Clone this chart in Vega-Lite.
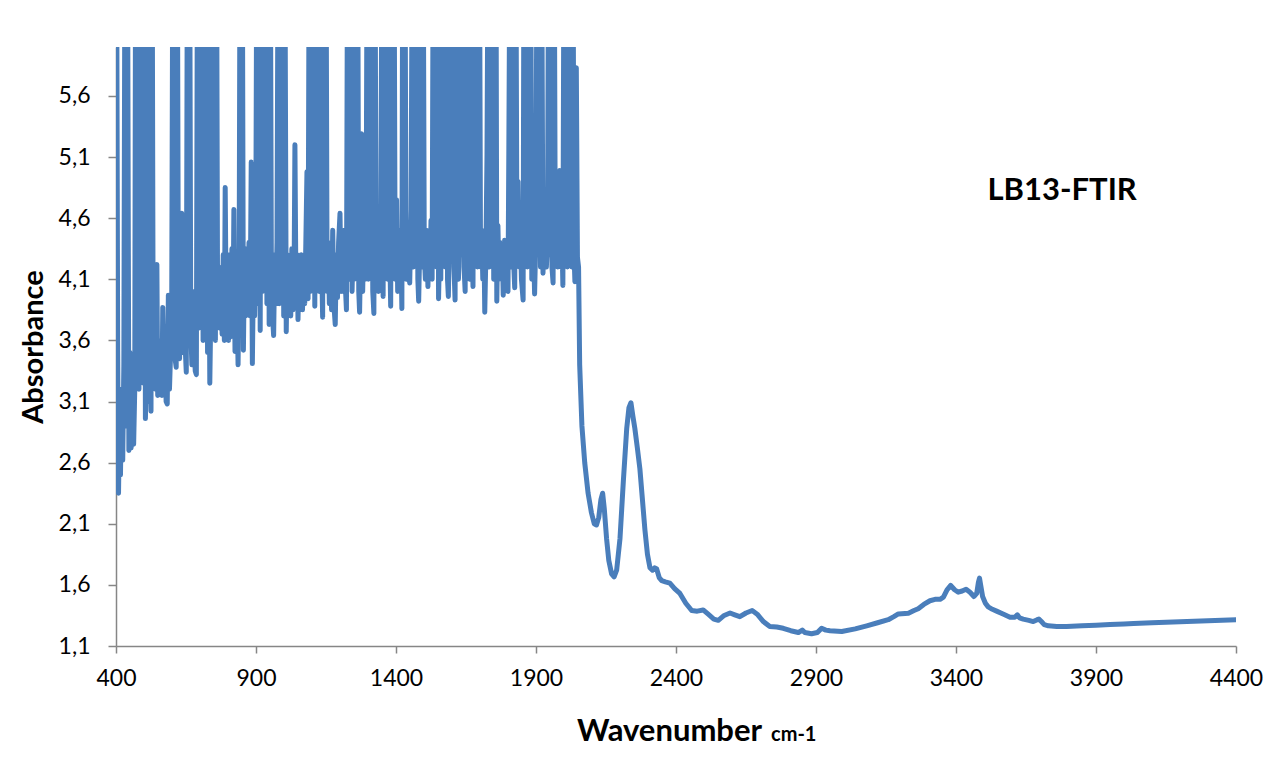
{
  "$schema": "https://vega.github.io/schema/vega-lite/v6.json",
  "width": 1120,
  "height": 599,
  "autosize": {"type": "none"},
  "padding": {"left": 116, "top": 47, "right": 44, "bottom": 119},
  "background": "white",
  "config": {"view": {"stroke": null}, "font": "Lato"},
  "title": {"text": "cm-1", "orient": "bottom", "anchor": "start", "frame": "group", "dx": 655, "dy": -5, "offset": 0, "font": "Lato", "fontWeight": "bold", "fontSize": 20, "color": "#000000", "baseline": "alphabetic"},
  "layer": [
    {
      "data": {"values": [
        {"w":400,"a":3.4},{"w":402,"a":7},{"w":406,"a":3.5},{"w":409,"a":2.35},{"w":413,"a":3.0},{"w":416,"a":2.5},{"w":420,"a":3.2},{"w":424,"a":2.62},{"w":428,"a":3.4},{"w":432,"a":7},{"w":437,"a":2.9},{"w":441,"a":7},{"w":446,"a":2.7},{"w":450,"a":3.5},{"w":454,"a":2.72},{"w":458,"a":3.3},{"w":463,"a":2.75},{"w":467,"a":3.2},{"w":470,"a":7},{"w":474,"a":3.3},{"w":478,"a":7},{"w":482,"a":3.2},{"w":486,"a":7},{"w":490,"a":3.3},{"w":494,"a":7},{"w":498,"a":3.25},{"w":502,"a":7},{"w":505,"a":2.96},{"w":509,"a":3.3},{"w":513,"a":3.1},{"w":517,"a":3.65},{"w":521,"a":7},{"w":525,"a":3.02},{"w":529,"a":7},{"w":533,"a":3.3},{"w":537,"a":3.7},{"w":541,"a":3.2},{"w":546,"a":4.22},{"w":549,"a":3.15},{"w":553,"a":3.6},{"w":557,"a":3.2},{"w":561,"a":3.5},{"w":564,"a":3.15},
        {"w":567,"a":3.87},{"w":571,"a":3.3},{"w":575,"a":3.6},{"w":579,"a":3.1},{"w":583,"a":3.08},{"w":587,"a":3.97},{"w":591,"a":3.2},{"w":595,"a":3.5},{"w":599,"a":3.9},{"w":603,"a":7},{"w":607,"a":3.6},{"w":611,"a":3.45},{"w":615,"a":3.38},{"w":619,"a":7},{"w":623,"a":3.7},{"w":627,"a":3.45},{"w":631,"a":4.0},{"w":635,"a":4.64},{"w":639,"a":3.5},{"w":643,"a":4.1},{"w":647,"a":3.55},{"w":651,"a":3.34},{"w":655,"a":7},{"w":659,"a":3.6},{"w":663,"a":7},{"w":667,"a":3.7},{"w":671,"a":3.4},{"w":675,"a":4.0},{"w":679,"a":3.6},{"w":683,"a":3.35},{"w":687,"a":3.32},{"w":691,"a":7},{"w":695,"a":3.7},{"w":699,"a":7},{"w":703,"a":3.9},{"w":707,"a":7},{"w":711,"a":3.6},{"w":715,"a":7},{"w":719,"a":3.8},{"w":723,"a":7},{"w":727,"a":3.5},{"w":730,"a":5.5},{"w":735,"a":3.25},{"w":739,"a":3.9},{"w":743,"a":7},{"w":747,"a":3.8},{"w":751,"a":4.1},{"w":755,"a":3.6},{"w":759,"a":7},{"w":763,"a":3.75},{"w":767,"a":4.2},{"w":771,"a":3.7},{"w":775,"a":4.1},{"w":779,"a":3.65},{"w":783,"a":4.3},{"w":787,"a":3.6},{"w":790,"a":4.85},{"w":794,"a":3.7},{"w":798,"a":4.2},{"w":802,"a":3.6},{"w":806,"a":4.3},{"w":810,"a":3.63},{"w":814,"a":4.35},{"w":818,"a":3.8},{"w":821,"a":4.67},{"w":825,"a":3.51},{"w":829,"a":4.2},{"w":833,"a":3.8},{"w":836,"a":3.4},{"w":840,"a":4.3},{"w":843,"a":7},{"w":847,"a":3.9},{"w":851,"a":7},{"w":855,"a":3.52},{"w":859,"a":4.3},{"w":863,"a":3.8},{"w":867,"a":4.35},{"w":871,"a":3.9},{"w":875,"a":4.4},{"w":879,"a":3.8},{"w":883,"a":5.06},{"w":887,"a":3.41},{"w":891,"a":4.2},{"w":895,"a":3.8},{"w":899,"a":4.3},
        {"w":903,"a":7},{"w":907,"a":3.9},{"w":911,"a":7},{"w":915,"a":3.68},{"w":919,"a":7},{"w":923,"a":4.0},{"w":927,"a":7},{"w":931,"a":4.2},{"w":935,"a":7},{"w":939,"a":3.9},{"w":943,"a":7},{"w":947,"a":3.73},{"w":951,"a":7},{"w":955,"a":4.1},{"w":959,"a":3.8},{"w":963,"a":3.64},{"w":967,"a":4.3},{"w":971,"a":3.9},{"w":975,"a":4.4},{"w":979,"a":7},{"w":983,"a":3.9},{"w":987,"a":7},{"w":991,"a":4.1},{"w":995,"a":7},{"w":999,"a":3.8},{"w":1003,"a":7},{"w":1008,"a":3.67},{"w":1012,"a":4.3},{"w":1016,"a":3.9},{"w":1020,"a":4.2},{"w":1024,"a":3.8},{"w":1028,"a":4.35},{"w":1032,"a":3.85},{"w":1036,"a":4.1},{"w":1039,"a":5.2},{"w":1043,"a":3.9},{"w":1047,"a":4.3},{"w":1050,"a":3.77},{"w":1054,"a":4.2},{"w":1058,"a":3.9},{"w":1062,"a":4.3},{"w":1066,"a":3.85},{"w":1070,"a":4.15},{"w":1074,"a":3.9},{"w":1078,"a":4.4},{"w":1082,"a":4.98},{"w":1086,"a":3.94},{"w":1090,"a":7},{"w":1094,"a":4.0},{"w":1098,"a":7},{"w":1102,"a":4.1},{"w":1106,"a":7},{"w":1110,"a":3.88},{"w":1114,"a":7},{"w":1118,"a":4.2},{"w":1122,"a":7},{"w":1126,"a":4.0},{"w":1130,"a":7},{"w":1134,"a":4.3},{"w":1138,"a":3.79},{"w":1142,"a":7},{"w":1146,"a":4.1},{"w":1150,"a":7},{"w":1154,"a":4.0},{"w":1158,"a":4.4},{"w":1162,"a":3.9},{"w":1166,"a":4.3},{"w":1170,"a":3.85},{"w":1174,"a":4.5},{"w":1178,"a":3.9},{"w":1183,"a":3.73},{"w":1187,"a":4.3},{"w":1191,"a":3.95},{"w":1195,"a":4.4},{"w":1200,"a":4.64},{"w":1204,"a":4.0},{"w":1208,"a":4.4},{"w":1212,"a":4.0},{"w":1216,"a":4.5},{"w":1220,"a":4.0},{"w":1223,"a":3.85},{"w":1227,"a":7},{"w":1231,"a":4.1},{"w":1235,"a":4.5},{"w":1239,"a":7},{"w":1243,"a":4.0},{"w":1247,"a":4.4},{"w":1251,"a":4.1},{"w":1255,"a":7},{"w":1259,"a":4.2},{"w":1263,"a":7},{"w":1267,"a":4.0},{"w":1270,"a":3.83},{"w":1274,"a":4.4},{"w":1277,"a":5.29},{"w":1281,"a":4.0},{"w":1285,"a":4.5},{"w":1289,"a":4.1},{"w":1293,"a":4.3},{"w":1297,"a":7},{"w":1301,"a":4.1},{"w":1305,"a":7},{"w":1309,"a":4.2},{"w":1313,"a":7},{"w":1317,"a":4.0},{"w":1321,"a":3.82},{"w":1325,"a":7},{"w":1329,"a":4.1},{"w":1333,"a":4.4},{"w":1337,"a":4.0},{"w":1341,"a":4.6},{"w":1345,"a":4.1},{"w":1350,"a":7},{"w":1354,"a":3.96},{"w":1358,"a":7},{"w":1362,"a":4.2},{"w":1366,"a":7},{"w":1370,"a":4.1},{"w":1374,"a":7},{"w":1378,"a":4.3},{"w":1381,"a":3.88},{"w":1385,"a":7},{"w":1389,"a":4.2},{"w":1393,"a":7},{"w":1397,"a":4.1},
        {"w":1402,"a":4.75},{"w":1406,"a":4.0},{"w":1410,"a":4.5},{"w":1414,"a":4.1},{"w":1418,"a":4.3},{"w":1421,"a":3.86},{"w":1424,"a":7},{"w":1428,"a":4.2},{"w":1432,"a":7},{"w":1436,"a":4.1},{"w":1440,"a":4.5},{"w":1444,"a":4.2},{"w":1449,"a":4.07},{"w":1454,"a":4.67},{"w":1458,"a":7},{"w":1462,"a":4.2},{"w":1466,"a":7},{"w":1470,"a":4.3},{"w":1474,"a":7},{"w":1478,"a":4.1},{"w":1481,"a":3.92},{"w":1485,"a":4.4},{"w":1489,"a":7},{"w":1493,"a":4.2},{"w":1497,"a":7},{"w":1501,"a":4.3},{"w":1505,"a":4.1},{"w":1509,"a":4.5},{"w":1514,"a":4.04},{"w":1518,"a":4.4},{"w":1522,"a":4.2},{"w":1525,"a":4.58},{"w":1529,"a":4.1},{"w":1533,"a":7},{"w":1537,"a":4.3},{"w":1541,"a":7},{"w":1545,"a":4.2},{"w":1549,"a":7},{"w":1552,"a":3.94},{"w":1556,"a":4.4},{"w":1560,"a":4.1},{"w":1564,"a":7},{"w":1568,"a":4.3},{"w":1572,"a":7},{"w":1576,"a":4.2},{"w":1580,"a":7},{"w":1584,"a":4.1},{"w":1587,"a":3.96},{"w":1591,"a":4.5},{"w":1595,"a":7},{"w":1599,"a":4.3},{"w":1603,"a":7},{"w":1607,"a":4.2},{"w":1611,"a":3.93},{"w":1615,"a":7},{"w":1619,"a":4.4},{"w":1623,"a":4.1},{"w":1627,"a":4.5},{"w":1631,"a":7},{"w":1635,"a":4.3},{"w":1639,"a":7},{"w":1643,"a":4.2},{"w":1647,"a":4.0},{"w":1651,"a":7},{"w":1655,"a":4.3},{"w":1659,"a":7},{"w":1663,"a":4.1},{"w":1667,"a":7},{"w":1671,"a":4.4},{"w":1675,"a":4.04},{"w":1679,"a":7},{"w":1683,"a":4.3},{"w":1687,"a":7},{"w":1691,"a":4.2},{"w":1694,"a":5.08},{"w":1698,"a":7},{"w":1702,"a":4.2},{"w":1706,"a":4.5},{"w":1710,"a":4.1},{"w":1714,"a":4.4},{"w":1717,"a":3.83},{"w":1721,"a":4.3},{"w":1725,"a":5.12},{"w":1729,"a":7},{"w":1733,"a":4.2},{"w":1737,"a":7},{"w":1741,"a":4.3},{"w":1745,"a":7},{"w":1749,"a":4.1},{"w":1753,"a":4.5},{"w":1757,"a":7},{"w":1760,"a":3.92},{"w":1764,"a":4.54},{"w":1768,"a":4.1},{"w":1772,"a":4.4},{"w":1776,"a":4.2},{"w":1780,"a":4.3},{"w":1783,"a":3.97},{"w":1788,"a":4.42},{"w":1792,"a":4.1},{"w":1796,"a":4.3},{"w":1800,"a":4.0},{"w":1803,"a":5.17},{"w":1807,"a":7},{"w":1811,"a":4.2},{"w":1815,"a":7},{"w":1819,"a":4.3},{"w":1824,"a":4.03},{"w":1828,"a":7},{"w":1832,"a":4.3},{"w":1836,"a":4.9},{"w":1840,"a":4.2},{"w":1844,"a":4.5},{"w":1848,"a":4.1},{"w":1854,"a":3.93},{"w":1857,"a":7},{"w":1861,"a":4.3},{"w":1865,"a":7},{"w":1869,"a":4.2},{"w":1873,"a":7},{"w":1877,"a":4.4},{"w":1881,"a":7},{"w":1885,"a":4.1},{"w":1889,"a":4.73},{"w":1892,"a":4.3},{"w":1895,"a":3.98},{"w":1899,"a":4.4},
        {"w":1904,"a":7},{"w":1908,"a":4.3},{"w":1912,"a":7},{"w":1916,"a":4.2},{"w":1920,"a":7},{"w":1925,"a":4.15},{"w":1929,"a":4.5},{"w":1933,"a":4.73},{"w":1937,"a":4.2},{"w":1941,"a":4.4},{"w":1945,"a":7},{"w":1949,"a":4.3},{"w":1953,"a":7},{"w":1957,"a":4.2},{"w":1961,"a":4.07},{"w":1965,"a":7},{"w":1969,"a":4.3},{"w":1973,"a":4.5},{"w":1977,"a":4.2},{"w":1981,"a":4.4},{"w":1985,"a":4.99},{"w":1989,"a":4.2},{"w":1993,"a":4.4},{"w":1996,"a":4.05},{"w":2000,"a":7},{"w":2004,"a":4.3},{"w":2008,"a":7},{"w":2012,"a":4.2},{"w":2016,"a":7},{"w":2020,"a":4.3},{"w":2024,"a":7},{"w":2028,"a":4.2},{"w":2032,"a":7},{"w":2036,"a":4.3},{"w":2039,"a":4.08},{"w":2044,"a":5.83},{"w":2048,"a":4.28},
        {"w":2052,"a":4.2},{"w":2056,"a":3.4},{"w":2064,"a":2.9},{"w":2074,"a":2.6},{"w":2086,"a":2.35},{"w":2098,"a":2.19},{"w":2108,"a":2.1},{"w":2116,"a":2.09},{"w":2124,"a":2.15},{"w":2132,"a":2.3},{"w":2138,"a":2.35},{"w":2144,"a":2.22},{"w":2152,"a":1.98},{"w":2160,"a":1.8},{"w":2170,"a":1.69},{"w":2179,"a":1.665},{"w":2188,"a":1.72},{"w":2200,"a":1.98},{"w":2212,"a":2.45},{"w":2224,"a":2.88},{"w":2232,"a":3.05},{"w":2239,"a":3.09},{"w":2246,"a":2.98},{"w":2253,"a":2.88},{"w":2262,"a":2.72},{"w":2271,"a":2.55},{"w":2280,"a":2.3},{"w":2289,"a":2.05},{"w":2298,"a":1.85},{"w":2307,"a":1.74},{"w":2316,"a":1.72},{"w":2324,"a":1.74},{"w":2331,"a":1.73},{"w":2340,"a":1.66},{"w":2349,"a":1.635},{"w":2362,"a":1.625},{"w":2378,"a":1.615},{"w":2395,"a":1.57},{"w":2414,"a":1.53},{"w":2435,"a":1.45},{"w":2456,"a":1.39},{"w":2476,"a":1.385},{"w":2497,"a":1.395},{"w":2515,"a":1.36},{"w":2535,"a":1.32},{"w":2551,"a":1.31},{"w":2572,"a":1.35},{"w":2593,"a":1.37},{"w":2610,"a":1.355},{"w":2628,"a":1.34},{"w":2650,"a":1.37},{"w":2672,"a":1.39},{"w":2690,"a":1.36},{"w":2712,"a":1.3},{"w":2735,"a":1.26},{"w":2760,"a":1.255},{"w":2783,"a":1.245},{"w":2810,"a":1.225},{"w":2837,"a":1.21},{"w":2851,"a":1.23},{"w":2860,"a":1.21},{"w":2884,"a":1.2},{"w":2905,"a":1.21},{"w":2920,"a":1.245},{"w":2935,"a":1.23},{"w":2950,"a":1.225},{"w":2992,"a":1.218},{"w":3040,"a":1.24},{"w":3081,"a":1.265},{"w":3120,"a":1.29},{"w":3158,"a":1.315},{"w":3178,"a":1.34},{"w":3194,"a":1.362},{"w":3230,"a":1.368},{"w":3250,"a":1.39},{"w":3265,"a":1.405},{"w":3285,"a":1.44},{"w":3307,"a":1.47},{"w":3325,"a":1.482},{"w":3343,"a":1.482},{"w":3355,"a":1.5},{"w":3368,"a":1.56},{"w":3381,"a":1.595},{"w":3395,"a":1.56},{"w":3408,"a":1.54},{"w":3422,"a":1.55},{"w":3436,"a":1.565},{"w":3450,"a":1.54},{"w":3464,"a":1.505},{"w":3474,"a":1.53},{"w":3480,"a":1.62},{"w":3484,"a":1.655},{"w":3488,"a":1.6},{"w":3495,"a":1.505},{"w":3505,"a":1.45},{"w":3515,"a":1.42},{"w":3530,"a":1.4},{"w":3545,"a":1.385},{"w":3570,"a":1.36},{"w":3593,"a":1.335},{"w":3610,"a":1.335},{"w":3619,"a":1.355},{"w":3627,"a":1.33},{"w":3640,"a":1.32},{"w":3660,"a":1.31},{"w":3676,"a":1.3},{"w":3690,"a":1.315},{"w":3696,"a":1.32},{"w":3705,"a":1.3},{"w":3715,"a":1.275},{"w":3730,"a":1.265},{"w":3760,"a":1.26},{"w":3795,"a":1.26},{"w":3850,"a":1.265},{"w":3900,"a":1.27},{"w":3950,"a":1.275},{"w":4000,"a":1.28},{"w":4034,"a":1.285},{"w":4100,"a":1.29},{"w":4200,"a":1.298},{"w":4300,"a":1.307},{"w":4400,"a":1.315}
      ]},
      "mark": {"type": "line", "clip": true, "color": "#4A7EBB", "strokeWidth": 5, "strokeJoin": "round", "strokeCap": "round"},
      "encoding": {
        "x": {"field": "w", "type": "quantitative",
          "scale": {"domain": [400, 4400], "nice": false, "zero": false},
          "axis": {"values": [400, 900, 1400, 1900, 2400, 2900, 3400, 3900, 4400], "format": "d", "grid": false,
            "domainColor": "#868686", "domainWidth": 1.5, "tickColor": "#868686", "tickWidth": 1.5, "tickSize": 7,
            "labelFont": "Lato", "labelFontSize": 23, "labelColor": "#000000", "labelPadding": 14, "labelFlush": false,
            "title": "Wavenumber", "titleFont": "Lato", "titleFontWeight": "bold", "titleFontSize": 31, "titleColor": "#000000",
            "titleX": 553, "titleY": 94, "titleAlign": "center", "titleBaseline": "alphabetic"}},
        "y": {"field": "a", "type": "quantitative",
          "scale": {"domain": [1.1, 6.0], "nice": false, "zero": false},
          "axis": {"values": [1.1, 1.6, 2.1, 2.6, 3.1, 3.6, 4.1, 4.6, 5.1, 5.6], "labelExpr": "replace(format(datum.value, '.1f'), '.', ',')", "grid": false,
            "domainColor": "#868686", "domainWidth": 1.5, "tickColor": "#868686", "tickWidth": 1.5, "tickSize": 8,
            "labelFont": "Lato", "labelFontSize": 23, "labelColor": "#000000", "labelPadding": 18, "labelFlush": false,
            "title": "Absorbance", "titleFont": "Lato", "titleFontWeight": "bold", "titleFontSize": 29, "titleColor": "#000000", "titlePadding": 10}}
      }
    },
    {
      "data": {"values": [{"label": "LB13-FTIR"}]},
      "mark": {"type": "text", "font": "Lato", "fontWeight": "bold", "fontSize": 31, "color": "#000000", "align": "center", "baseline": "middle"},
      "encoding": {
        "x": {"datum": 3779, "type": "quantitative"},
        "y": {"datum": 4.82, "type": "quantitative"},
        "text": {"field": "label"}
      }
    }
  ]
}
